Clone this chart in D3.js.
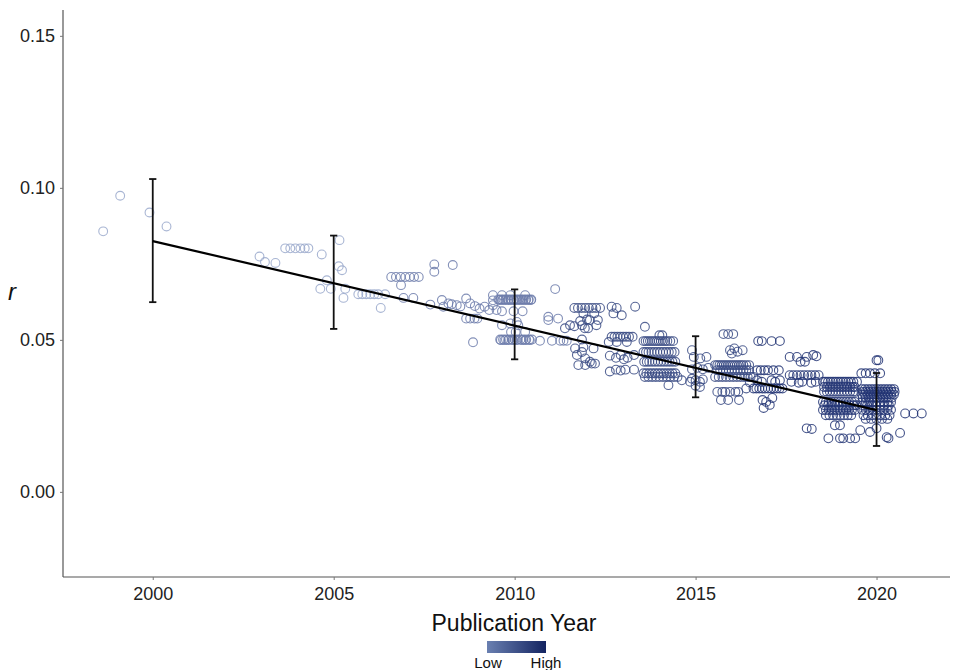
<!DOCTYPE html>
<html><head><meta charset="utf-8">
<script src="https://cdn.jsdelivr.net/npm/d3@7"></script>
<style>body{margin:0;background:#fff;font-family:"Liberation Sans",Arial,sans-serif;}</style>
</head><body><svg id="chart" width="953" height="670"></svg>
<script>
// ---- data ----
const xTicks = [2000, 2005, 2010, 2015, 2020];
const yTicks = [0.00, 0.05, 0.10, 0.15];
const fitYears = [2000, 2020];
const fitR = [0.0825, 0.0269];
const ebYears = [2000, 2005, 2010, 2015, 2020];
const ebLower = [0.0624, 0.0536, 0.0436, 0.0311, 0.0151];
const ebUpper = [0.1029, 0.0843, 0.0666, 0.0512, 0.0391];
const groupWeights = [0.1, 0.4, 0.75, 0.9];

// single points [year, r]
const singlesA = [[1998.63,0.0857],[1999.1,0.0974],[1999.91,0.0919],[2000.38,0.0873],
 [2002.95,0.0774],[2003.1,0.0756],[2003.39,0.0753],[2004.67,0.0781],[2005.16,0.0828],
 [2005.14,0.0742],[2005.23,0.0729],[2004.81,0.0696],[2004.63,0.0668],[2004.92,0.0668],
 [2005.32,0.0668],[2005.27,0.0638],[2006.3,0.0605]];
const singlesB = [[2006.86,0.068],[2006.93,0.0638],[2007.2,0.0638],[2007.78,0.0748],[2007.78,0.0724],
 [2008.29,0.0746],[2007.67,0.0616],[2007.99,0.0631],[2008.03,0.0609],[2008.17,0.062],[2008.26,0.0617],
 [2008.4,0.0614],[2008.5,0.061],[2008.66,0.0636],[2008.77,0.062],[2008.9,0.0611],[2009.03,0.0603],
 [2009.17,0.0609],[2009.3,0.0598],[2009.4,0.0614],[2009.5,0.0598],[2008.85,0.0492],[2009.4,0.063],
 [2009.65,0.0594],[2009.97,0.0594],[2010.22,0.0594],[2009.65,0.0548],[2009.88,0.0554],[2010.1,0.0548],
 [2010.29,0.0526],[2009.9,0.0526],[2010.03,0.0526],[2010.06,0.0559],[2011.12,0.0667],[2010.93,0.0576],
 [2010.93,0.0565],[2011.2,0.057]];
const singlesC = [[2011.39,0.0538],[2011.53,0.0548],[2011.67,0.0472],[2011.65,0.0545],[2011.86,0.0548],
 [2011.9,0.0587],[2012.0,0.0567],[2012.2,0.0587],[2012.08,0.0565],[2012.3,0.0565],[2012.26,0.0548],
 [2011.81,0.0562],[2011.94,0.0538],[2012.03,0.0538],[2011.86,0.0501],[2011.9,0.0476],[2011.72,0.045],
 [2011.86,0.046],[2011.95,0.0439],[2012.08,0.0428],[2012.13,0.0422],[2011.76,0.0417],[2011.95,0.0417],
 [2012.22,0.0422],[2012.18,0.0472],[2012.68,0.0609],[2012.73,0.0587],[2012.82,0.0605],[2012.96,0.0581],
 [2013.33,0.0609],[2012.6,0.0493],[2012.82,0.0493],[2013.1,0.0493],[2012.63,0.0448],[2012.8,0.0441],
 [2012.93,0.045],[2013.02,0.0436],[2013.12,0.0441],[2013.3,0.045],[2012.63,0.0396],[2012.8,0.0402],
 [2012.93,0.0399],[2013.06,0.0402],[2013.3,0.0402],[2013.6,0.0543],[2014.0,0.0515],[2014.08,0.0515],
 [2014.25,0.0351],[2014.62,0.0367],[2014.85,0.0362],[2014.9,0.0466],[2014.95,0.0444],[2015.13,0.0439],
 [2015.3,0.0444],[2014.9,0.0403],[2015.05,0.0408],[2015.2,0.0403],[2015.35,0.0408],[2014.9,0.0372],
 [2015.0,0.0367],[2015.12,0.0362],[2015.2,0.037],[2015.0,0.0349],[2015.12,0.0345],
 [2015.95,0.0466],[2016.07,0.0472],[2016.16,0.0461],[2016.0,0.0455],[2016.3,0.0466],
 [2015.6,0.0329],[2015.74,0.0329],[2015.82,0.0329],[2015.95,0.0329],[2016.1,0.0329],[2016.18,0.0329],
 [2015.7,0.0302],[2015.9,0.0302],[2016.2,0.0302],[2016.4,0.034],[2016.5,0.036]];
const singlesD = [[2016.7,0.0367],[2016.83,0.0362],[2017.1,0.0367],[2017.2,0.0362],[2017.33,0.0367],
 [2016.85,0.0302],[2016.95,0.0296],[2016.88,0.0276],[2017.05,0.0286],[2017.12,0.0309],
 [2017.6,0.0444],[2017.8,0.0444],[2017.9,0.0428],[2018.07,0.0444],[2018.25,0.045],[2018.34,0.0446],
 [2018.02,0.0428],[2017.65,0.0362],[2017.85,0.0359],[2017.95,0.0362],[2018.2,0.0359],[2018.32,0.0362],
 [2018.07,0.0209],[2018.21,0.0207],[2018.85,0.0219],[2018.99,0.0219],[2018.67,0.0176],[2018.99,0.0176],
 [2019.08,0.0176],[2019.27,0.0176],[2019.41,0.0176],[2020.0,0.0433],[2020.05,0.0433],
 [2019.55,0.0203],[2019.82,0.0197],[2020.0,0.0209],[2020.28,0.018],[2020.33,0.0176],[2020.65,0.0194],
 [2020.79,0.0258],[2021.02,0.0258],[2021.25,0.0258]];

// clustered rows: [r, years]
const rowsA = [
 [0.0801,[2003.66,2003.8,2003.94,2004.08,2004.2,2004.3]],
 [0.065,[2005.68,2005.79,2005.9,2006.01,2006.12,2006.23,2006.42]]];
const rowsB = [
 [0.0707,[2006.59,2006.72,2006.85,2006.98,2007.1,2007.22,2007.35]],
 [0.057,[2008.66,2008.77,2008.89,2008.97]],
 [0.0647,[2009.4,2009.65,2009.88,2010.29]],
 [0.0633,[2009.55,2009.62,2009.69,2009.76,2009.83,2009.9,2009.97,2010.04,2010.11,2010.18,2010.25,2010.32,2010.39,2010.46]],
 [0.0631,[2009.58,2009.66,2009.74,2009.82,2009.9,2009.98,2010.06,2010.14,2010.22,2010.3,2010.38,2010.45]],
 [0.0501,[2009.6,2009.68,2009.76,2009.84,2009.92,2010.0,2010.08,2010.16,2010.24,2010.32,2010.4,2010.48]],
 [0.0499,[2009.62,2009.72,2009.82,2009.95,2010.05,2010.2,2010.3,2010.42]],
 [0.0497,[2010.7,2011.03,2011.26,2011.35,2011.44]]];
const rowsC = [
 [0.0605,[2011.65,2011.75,2011.85,2011.95,2012.05,2012.15,2012.25,2012.36]],
 [0.051,[2012.68,2012.76,2012.84,2012.92,2013.0,2013.08,2013.16,2013.26]],
 [0.0496,[2013.56,2013.62,2013.68,2013.74,2013.8,2013.86,2013.92,2013.98,2014.04,2014.1,2014.16,2014.22,2014.3,2014.38]],
 [0.046,[2013.56,2013.63,2013.7,2013.78,2013.86,2013.94,2014.02,2014.1,2014.18,2014.26,2014.34,2014.42]],
 [0.0428,[2013.58,2013.65,2013.72,2013.8,2013.88,2013.96,2014.04,2014.12,2014.2,2014.28,2014.36,2014.44]],
 [0.039,[2013.56,2013.64,2013.72,2013.8,2013.88,2013.96,2014.04,2014.12,2014.2,2014.28,2014.36,2014.44]],
 [0.0378,[2013.6,2013.7,2013.8,2013.9,2014.0,2014.1,2014.2,2014.3,2014.4,2014.5]],
 [0.0519,[2015.77,2015.9,2016.04]],
 [0.0417,[2015.54,2015.6,2015.66,2015.72,2015.78,2015.84,2015.9,2015.96,2016.02,2016.08,2016.14,2016.2,2016.26,2016.32,2016.4,2016.48]],
 [0.04,[2015.6,2015.68,2015.76,2015.84,2015.92,2016.0,2016.08,2016.16,2016.24,2016.32,2016.4,2016.48]],
 [0.0378,[2015.54,2015.64,2015.74,2015.84,2015.94,2016.04,2016.14,2016.24,2016.34,2016.44,2016.52,2016.6]]];
const rowsD = [
 [0.0496,[2016.73,2016.83,2017.1,2017.33]],
 [0.04,[2016.7,2016.8,2016.9,2017.0,2017.15,2017.3]],
 [0.034,[2016.6,2016.68,2016.76,2016.84,2016.92,2017.0,2017.08,2017.16,2017.24,2017.32,2017.4]],
 [0.0384,[2017.6,2017.7,2017.8,2017.9,2018.0,2018.1,2018.2,2018.3,2018.4]],
 [0.0362,[2018.52,2018.59,2018.66,2018.73,2018.8,2018.87,2018.94,2019.01,2019.08,2019.15,2019.22,2019.29,2019.36,2019.46]],
 [0.0345,[2018.55,2018.63,2018.71,2018.79,2018.87,2018.95,2019.03,2019.11,2019.19,2019.27,2019.35,2019.4]],
 [0.0329,[2018.55,2018.63,2018.71,2018.79,2018.87,2018.95,2019.03,2019.11,2019.19,2019.27,2019.35,2019.42]],
 [0.0296,[2018.52,2018.6,2018.68,2018.76,2018.84,2018.92,2019.0,2019.08,2019.16,2019.24,2019.32,2019.4]],
 [0.0285,[2018.56,2018.66,2018.76,2018.86,2018.96,2019.06,2019.16,2019.26,2019.36,2019.44]],
 [0.0269,[2018.52,2018.6,2018.68,2018.76,2018.84,2018.92,2019.0,2019.08,2019.16,2019.24,2019.32,2019.4]],
 [0.0252,[2018.6,2018.7,2018.8,2018.9,2019.0,2019.1,2019.2,2019.3]],
 [0.039,[2019.58,2019.7,2019.82,2019.95,2020.1]],
 [0.0338,[2019.6,2019.68,2019.76,2019.84,2019.92,2020.0,2020.08,2020.16,2020.24,2020.32,2020.4,2020.48]],
 [0.0329,[2019.62,2019.7,2019.78,2019.86,2019.94,2020.02,2020.1,2020.18,2020.26,2020.34,2020.42,2020.5]],
 [0.032,[2019.6,2019.68,2019.76,2019.84,2019.92,2020.0,2020.08,2020.16,2020.24,2020.32,2020.4,2020.48]],
 [0.031,[2019.62,2019.7,2019.78,2019.86,2019.94,2020.02,2020.1,2020.18,2020.26,2020.34,2020.42]],
 [0.0295,[2019.6,2019.7,2019.8,2019.9,2020.0,2020.1,2020.2,2020.3,2020.4]],
 [0.0285,[2019.62,2019.74,2019.86,2019.98,2020.1,2020.22,2020.34]],
 [0.027,[2019.6,2019.7,2019.8,2019.9,2020.0,2020.1,2020.2,2020.3,2020.4]],
 [0.0252,[2019.64,2019.76,2019.88,2020.0,2020.12,2020.24,2020.36]],
 [0.024,[2019.7,2019.85,2020.0,2020.15,2020.3]]];

// ---- build ----
const svg = d3.select("#chart");
const L = 63, R = 950, T = 10, B = 577;
const x = d3.scaleLinear().domain([1997.52, 2022.03]).range([L, R]);
const y = d3.scaleLinear().domain([-0.028, 0.1585]).range([B, T]);
const color = d3.scaleLinear().domain([0, 1]).range(["#a7b6d6", "#17286a"]).interpolate(d3.interpolateRgb);

const groups = [[singlesA, rowsA], [singlesB, rowsB], [singlesC, rowsC], [singlesD, rowsD]];
const pts = [];
groups.forEach((g, i) => {
  g[0].forEach(p => pts.push({year: p[0], r: p[1], w: groupWeights[i]}));
  g[1].forEach(row => row[1].forEach(yr => pts.push({year: yr, r: row[0], w: groupWeights[i]})));
});

svg.append("g").selectAll("circle").data(pts).join("circle")
  .attr("cx", d => x(d.year)).attr("cy", d => y(d.r)).attr("r", 4.4)
  .attr("fill", "none").attr("stroke", d => color(d.w))
  .attr("stroke-width", 1.1).attr("stroke-opacity", 0.85);

// error bars
const eb = svg.append("g").attr("stroke", "#111").attr("stroke-width", 1.8);
ebYears.forEach((yr, i) => {
  eb.append("line").attr("x1", x(yr)).attr("x2", x(yr)).attr("y1", y(ebLower[i])).attr("y2", y(ebUpper[i]));
  [ebLower[i], ebUpper[i]].forEach(v => eb.append("line")
    .attr("x1", x(yr - 0.1)).attr("x2", x(yr + 0.1)).attr("y1", y(v)).attr("y2", y(v)));
});
// fit line
svg.append("path").datum(fitYears.map((yr, i) => [yr, fitR[i]]))
  .attr("d", d3.line().x(d => x(d[0])).y(d => y(d[1])))
  .attr("fill", "none").attr("stroke", "#000").attr("stroke-width", 2.2);

// axes
const xAxis = svg.append("g").attr("transform", `translate(0,${B})`)
  .call(d3.axisBottom(x).tickValues(xTicks).tickFormat(d3.format("d")).tickSize(3).tickSizeOuter(0));
const yAxis = svg.append("g").attr("transform", `translate(${L},0)`)
  .call(d3.axisLeft(y).tickValues(yTicks).tickFormat(d3.format(".2f")).tickSize(3).tickSizeOuter(0));
[xAxis, yAxis].forEach(a => {
  a.select(".domain").attr("stroke", "#555").attr("stroke-width", 1.2);
  a.selectAll(".tick line").attr("stroke", "#777");
  a.selectAll("text").attr("font-size", 18).attr("fill", "#222")
    .attr("font-family", "'Liberation Sans', Arial, sans-serif");
});
xAxis.selectAll("text").attr("dy", "0.71em").attr("y", 10);
yAxis.selectAll("text").attr("x", -8);
xAxis.select(".domain").attr("d", `M${L},0H${R}`);
yAxis.select(".domain").attr("d", `M0,${T}V${B}`);

// titles
svg.append("text").attr("x", 514).attr("y", 631).attr("text-anchor", "middle")
  .attr("font-size", 23).attr("fill", "#111").text("Publication Year");
svg.append("text").attr("x", 12).attr("y", 300).attr("text-anchor", "middle")
  .attr("font-size", 24).attr("font-style", "italic").attr("fill", "#111").text("r");

// legend
const defs = svg.append("defs");
const grad = defs.append("linearGradient").attr("id", "lg");
grad.append("stop").attr("offset", "0%").attr("stop-color", "#6a80b1");
grad.append("stop").attr("offset", "100%").attr("stop-color", "#132461");
svg.append("rect").attr("x", 487).attr("y", 641).attr("width", 59).attr("height", 12).attr("fill", "url(#lg)");
svg.append("text").attr("x", 488).attr("y", 668).attr("text-anchor", "middle").attr("font-size", 15).attr("fill", "#111").text("Low");
svg.append("text").attr("x", 546).attr("y", 668).attr("text-anchor", "middle").attr("font-size", 15).attr("fill", "#111").text("High");
</script></body></html>
